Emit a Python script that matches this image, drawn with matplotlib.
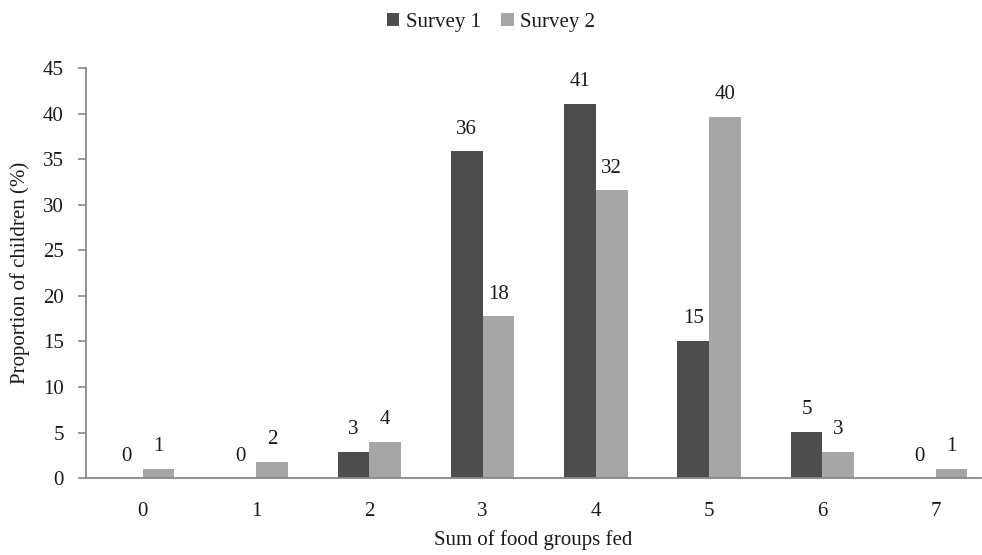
import numpy as np
import matplotlib
matplotlib.use("Agg")
import matplotlib.pyplot as plt

plt.rcParams['font.family'] = ['Liberation Serif', 'DejaVu Serif']

# datos
categorias = ["0", "1", "2", "3", "4", "5", "6", "7"]
survey1 = [0.0, 0.0, 2.9, 35.9, 41.1, 15.1, 5.1, 0.0]
survey2 = [1.0, 1.8, 4.0, 17.8, 31.6, 39.7, 2.9, 1.0]
series_nomes = ["Survey 1", "Survey 2"]
cores = ["#4d4d4d", "#a6a6a6"]

fs = 15
txt = '#1a1a1a'

fig = plt.figure(figsize=(9.82, 5.55), dpi=100)
ax = fig.add_axes([0.0876, 0.1387, 0.9114, 0.738])

x = np.arange(len(categorias))
w = 0.28
barras = []
for i, (vals, nome, cor) in enumerate(zip([survey1, survey2], series_nomes, cores)):
    b = ax.bar(x + (i - 0.5) * w, vals, width=w, color=cor, label=nome, zorder=2)
    barras.append(b)
    for xi, v in zip(x + (i - 0.5) * w, vals):
        ax.annotate(f"{v:.0f}", xy=(xi, v), xytext=(0, 9), textcoords='offset points',
                    ha='center', va='bottom', fontsize=fs, color=txt)

ax.set_xlim(-0.5, 7.4)
ax.set_ylim(0, 45)
ax.set_yticks(range(0, 46, 5))
ax.set_xticks(x)
ax.set_xticklabels(categorias)

#eixos
for lado in ['top', 'right']:
    ax.spines[lado].set_visible(False)
ax.spines['left'].set_color('#888888')
ax.spines['bottom'].set_color('#888888')
ax.spines['left'].set_linewidth(1.3)
ax.spines['bottom'].set_linewidth(1.3)
ax.tick_params(axis='y', length=6, width=1.2, color='#888888', pad=10, labelsize=fs, labelcolor=txt)
ax.tick_params(axis='x', length=0, pad=17, labelsize=fs, labelcolor=txt)

ax.set_xlabel("Sum of food groups fed", fontsize=fs, color=txt, labelpad=7)
ax.set_ylabel("Proportion of children (%)", fontsize=fs, color=txt, labelpad=9)

fig.legend(handles=barras, labels=series_nomes, loc='upper center', bbox_to_anchor=(0.5, 1.01),
           ncol=2, frameon=False, fontsize=fs, handlelength=0.6, handleheight=0.6,
           handletextpad=0.3, columnspacing=1.0, labelcolor=txt)

fig.savefig("out.png", dpi=100)
